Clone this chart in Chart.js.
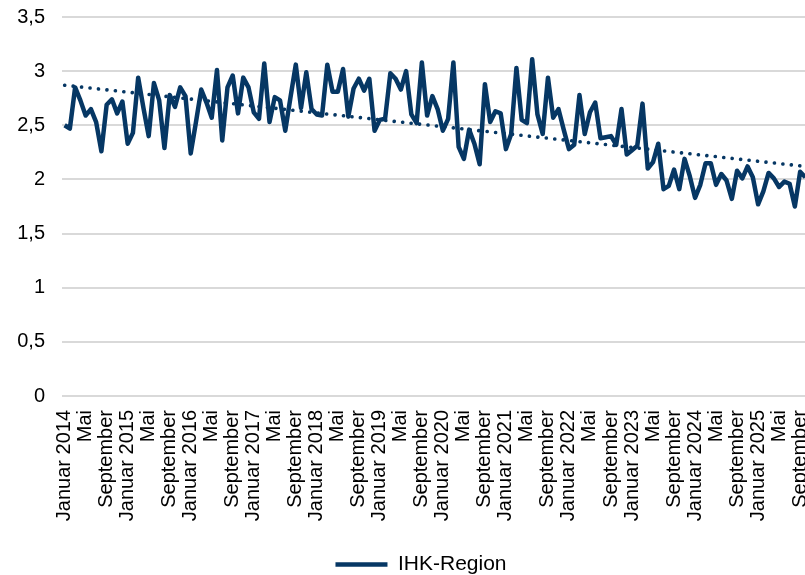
<!DOCTYPE html>
<html lang="de">
<head>
<meta charset="utf-8">
<title>IHK-Region</title>
<script src="https://cdn.jsdelivr.net/npm/chart.js@4.4.1/dist/chart.umd.min.js"></script>
<style>
    html, body { margin: 0; padding: 0; background: #fff; overflow: hidden; }
    #wrap { position: relative; width: 876px; height: 575px; }
</style>
</head>
<body>
<div id="wrap"><canvas id="ihkChart"></canvas></div>
<script>
// monthly values
const values2014 = [2.50, 2.47, 2.85, 2.73, 2.59, 2.65, 2.53, 2.26, 2.69, 2.74, 2.61, 2.72];
const values2015 = [2.33, 2.43, 2.94, 2.66, 2.40, 2.89, 2.73, 2.29, 2.78, 2.67, 2.85, 2.77];
const values2016 = [2.24, 2.53, 2.83, 2.71, 2.57, 3.01, 2.36, 2.85, 2.96, 2.61, 2.94, 2.85];
const values2017 = [2.62, 2.56, 3.07, 2.53, 2.76, 2.73, 2.45, 2.76, 3.06, 2.66, 2.99, 2.65];
const values2018 = [2.60, 2.59, 3.06, 2.81, 2.81, 3.02, 2.58, 2.84, 2.93, 2.82, 2.93, 2.45];
const values2019 = [2.55, 2.56, 2.98, 2.93, 2.83, 3.00, 2.60, 2.52, 3.08, 2.59, 2.77, 2.65];
const values2020 = [2.45, 2.56, 3.08, 2.30, 2.19, 2.46, 2.33, 2.14, 2.88, 2.53, 2.63, 2.61];
const values2021 = [2.28, 2.42, 3.03, 2.55, 2.52, 3.11, 2.60, 2.42, 2.94, 2.57, 2.65, 2.46];
const values2022 = [2.28, 2.32, 2.78, 2.42, 2.62, 2.71, 2.38, 2.39, 2.40, 2.32, 2.65, 2.23];
const values2023 = [2.27, 2.31, 2.70, 2.10, 2.16, 2.33, 1.91, 1.94, 2.09, 1.91, 2.19, 2.03];
const values2024 = [1.83, 1.95, 2.15, 2.15, 1.95, 2.05, 1.99, 1.82, 2.08, 2.01, 2.12, 2.02];
const values2025 = [1.77, 1.89, 2.06, 2.01, 1.93, 1.98, 1.96, 1.75, 2.07, 2.02];

const years = [2014, 2015, 2016, 2017, 2018, 2019, 2020, 2021, 2022, 2023, 2024, 2025];
const monthNames = ['Januar', 'Februar', 'März', 'April', 'Mai', 'Juni',
                    'Juli', 'August', 'September', 'Oktober', 'November', 'Dezember'];

// linear trend line, start / end
const trendStart = 2.87;
const trendEnd = 2.12;

const yTicks = [0, 0.5, 1, 1.5, 2, 2.5, 3, 3.5];

const seriesValues = [].concat(values2014, values2015, values2016, values2017, values2018,
    values2019, values2020, values2021, values2022, values2023, values2024, values2025);

const categories = [];
years.forEach(y => {
    monthNames.forEach((m, i) => {
        if (categories.length < seriesValues.length) {
            categories.push(i === 0 ? m + ' ' + y : m);
        }
    });
});

const trendValues = seriesValues.map((v, i) =>
    i === 0 ? trendStart : (i === seriesValues.length - 1 ? trendEnd : null));

const FONT = "'Liberation Sans', Arial, sans-serif";
const NAVY = '#063764';

Chart.defaults.font.family = FONT;
Chart.defaults.color = '#000';

new Chart(document.getElementById('ihkChart').getContext('2d'), {
    type: 'line',
    data: {
        labels: categories,
        datasets: [{
            label: 'IHK-Region',
            data: seriesValues,
            borderColor: NAVY,
            backgroundColor: NAVY,
            borderWidth: 4.5,
            borderJoinStyle: 'round',
            pointRadius: 0,
            tension: 0,
            order: 1
        }, {
            label: 'Trend',
            data: trendValues,
            borderColor: NAVY,
            borderWidth: 3.6,
            borderDash: [0.1, 8.4],
            borderCapStyle: 'round',
            pointRadius: 0,
            spanGaps: true,
            tension: 0,
            order: 2
        }]
    },
    options: {
        responsive: true,
        maintainAspectRatio: false,
        animation: false,
        layout: { padding: { top: 17, right: 68, bottom: -10, left: 34 } },
        plugins: {
            tooltip: { enabled: false },
            legend: {
                position: 'bottom',
                labels: {
                    filter: item => item.text === 'IHK-Region',
                    usePointStyle: true,
                    pointStyle: 'line',
                    pointStyleWidth: 52,
                    padding: 2,
                    font: { size: 21 },
                    color: '#000'
                }
            }
        },
        scales: {
            x: {
                offset: true,
                grid: { display: false },
                border: { display: false },
                afterFit: s => { s.height = 156; },
                ticks: {
                    autoSkip: false,
                    maxRotation: 90,
                    minRotation: 90,
                    padding: 6,
                    font: { size: 20 },
                    color: '#000',
                    callback: function (val, idx) {
                        return idx % 4 === 0 ? categories[idx] : '';
                    }
                }
            },
            y: {
                min: 0,
                max: 3.5,
                afterFit: s => {
                    s.width = 28;
                    s.paddingTop = 0;
                    // labels reach left of the narrow axis box, so don't clip them
                    s._computeLabelArea = () => null;
                },
                afterBuildTicks: s => { s.ticks = yTicks.map(v => ({ value: v })); },
                grid: { color: '#d9d9d9', lineWidth: 2, drawTicks: false },
                border: { display: false },
                ticks: {
                    padding: 17,
                    font: { size: 20 },
                    color: '#000',
                    callback: v => String(v).replace('.', ',')
                }
            }
        }
    }
});
</script>
</body>
</html>
